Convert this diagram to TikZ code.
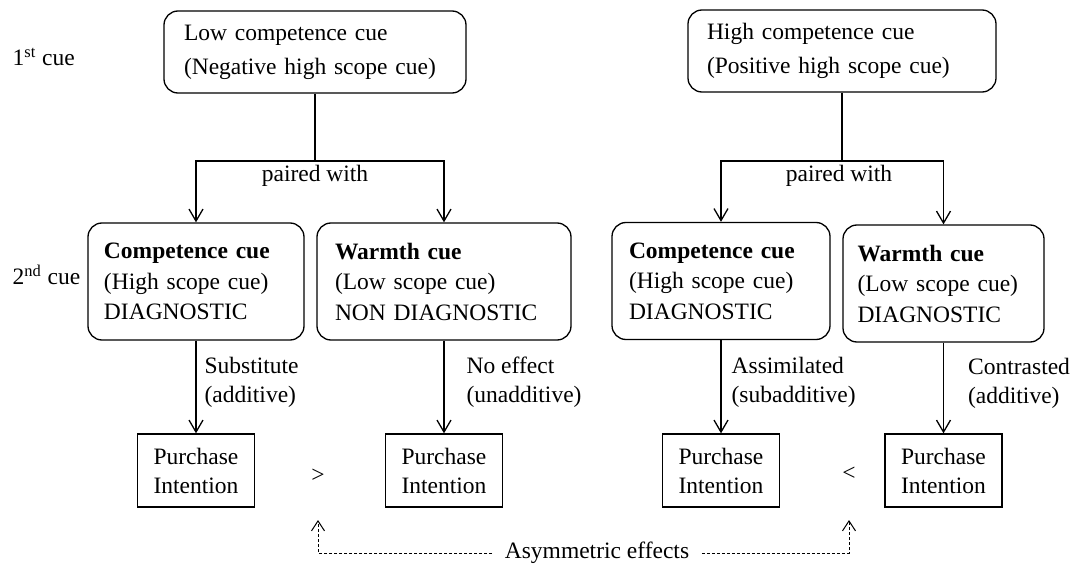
\documentclass[tikz,border=0pt]{standalone}
\usepackage{fontspec}
\setmainfont{Liberation Serif}
\usetikzlibrary{arrows.meta}

\begin{document}
\begin{tikzpicture}[x=0.5pt,y=-0.5pt,line width=0.65pt,
	every node/.style={font=\fontsize{11.75}{14.5}\selectfont,inner sep=0pt},
	cuebox/.style={draw,rounded corners=7pt,align=left,minimum height=58.5pt},
	topbox/.style={cuebox,minimum height=41pt},
	pibox/.style={draw,align=center,minimum width=58.5pt,minimum height=36.5pt},
	effect/.style={align=left,anchor=west},
	arr/.style={-{Straight Barb[length=6pt,width=7pt]}},
	dasharr/.style={-{Straight Barb[length=5pt,width=6.5pt]},line width=0.5pt,dash pattern=on 1.5pt off 1pt}]
	\useasboundingbox (0,0) rectangle (1078,567);
	% row labels
	\node[anchor=west] (cue1) at (12,57) {1\textsuperscript{st} cue};
	\node[anchor=west] (cue2) at (12,275) {2\textsuperscript{nd} cue};
	% first cue
	\node[topbox,text width=131pt,inner xsep=10pt] (topL) at (315,52)
		{Low competence cue\\[2.5pt](Negative high scope cue)};
	\node[topbox,text width=135pt,inner xsep=9.5pt] (topR) at (842,51)
		{High competence cue\\[2.5pt](Positive high scope cue)};
	% second cue
	\node[cuebox,text width=92pt,inner xsep=8pt] (compL) at (196,281.5)
		{\textbf{Competence cue}\\[0.75pt](High scope cue)\\[0.75pt]DIAGNOSTIC};
	\node[cuebox,text width=109pt,inner xsep=9pt] (warmL) at (444,281.5)
		{\textbf{Warmth cue}\\[0.75pt](Low scope cue)\\[0.75pt]NON DIAGNOSTIC};
	\node[cuebox,text width=92pt,inner xsep=8.5pt] (compR) at (721,281)
		{\textbf{Competence cue}\\[0.75pt](High scope cue)\\[0.75pt]DIAGNOSTIC};
	\node[cuebox,text width=86pt,inner xsep=7.25pt] (warmR) at (943.5,283.5)
		{\textbf{Warmth cue}\\[0.75pt](Low scope cue)\\[0.75pt]DIAGNOSTIC};
	% outcomes
	\node[pibox] (piA) at (196,470.5) {Purchase\\Intention};
	\node[pibox] (piB) at (444,470.5) {Purchase\\Intention};
	\node[pibox] (piC) at (721,470.5) {Purchase\\Intention};
	\node[pibox] (piD) at (943.5,470.5) {Purchase\\Intention};
	\node (gt) at (318,476) {>};
	\node (lt) at (849,474) {<};
	\node[inner xsep=6pt] (asym) at (597,553) {Asymmetric effects};
	\coordinate (gtend) at (318,520);
	\coordinate (ltend) at (849,520);
	% pairing
	\coordinate (jL) at (315,161);
	\coordinate (jR) at (842,161);
	\draw (topL) -- (jL);
	\draw[arr] (jL) -| (compL);
	\draw[arr] (jL) -| (warmL);
	\node (pairL) at (315,176) {paired with};
	\draw (topR) -- (jR);
	\draw[arr] (jR) -| (compR);
	\draw[arr] (jR) -| (warmR);
	\node (pairR) at (839,176) {paired with};
	% effects
	\draw[arr] (compL) -- (piA) node[effect,pos=0.45,xshift=4pt] (effA) {Substitute\\(additive)};
	\draw[arr] (warmL) -- (piB) node[effect,pos=0.45,xshift=11pt] (effB) {No effect\\(unadditive)};
	\draw[arr] (compR) -- (piC) node[effect,pos=0.45,xshift=5pt] (effC) {Assimilated\\(subadditive)};
	\draw[arr] (warmR) -- (piD) node[effect,pos=0.45,xshift=12pt] (effD) {Contrasted\\(additive)};
	% asymmetry
	\draw[dasharr] (asym) -| (gtend);
	\draw[dasharr] (asym) -| (ltend);
\end{tikzpicture}
\end{document}
